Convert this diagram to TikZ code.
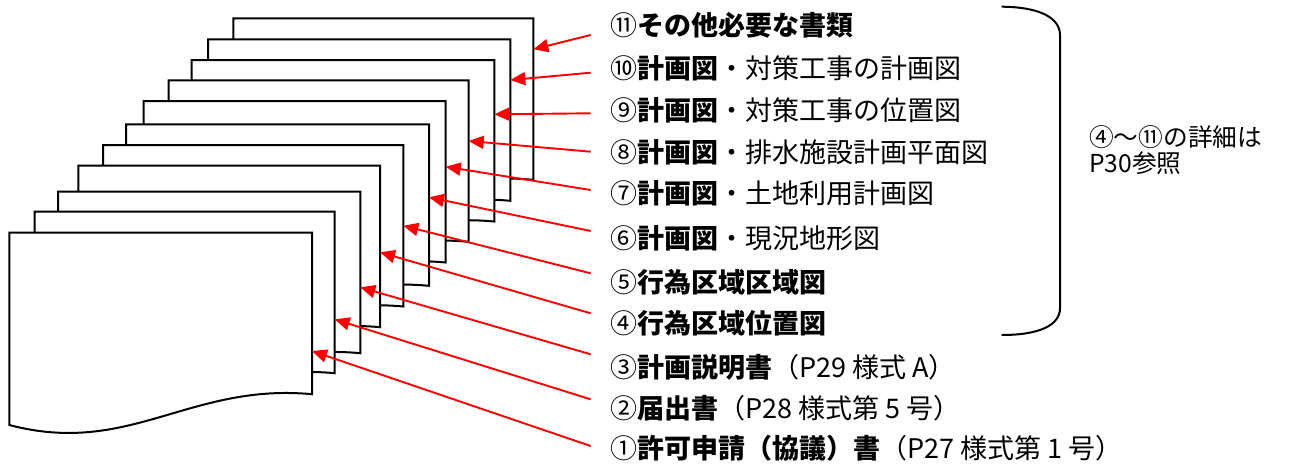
\documentclass[tikz,border=0pt]{standalone}
\usepackage{fontspec}
\newfontfamily\jp{Noto Sans CJK JP}
\usetikzlibrary{arrows.meta}
\begin{document}
\begin{tikzpicture}[x=1pt,y=-1pt,
  page/.style={draw=black,line width=2pt,fill=white,line join=miter},
  arr/.style={draw=red,line width=1.9pt,-{Triangle[length=15pt,width=13pt]}},
  lbl/.style={anchor=base west,inner sep=0pt,font=\jp\fontsize{27}{30}\selectfont},
  note/.style={anchor=base west,inner sep=0pt,font=\jp\fontsize{24.7}{27}\selectfont},
  brace/.style={draw=black,line width=2pt}]
\useasboundingbox (0,0) rectangle (1298,463);
% pages, back to front
\foreach \L/\T/\R in {233.3/18.3/533.3, 208/39.3/510.3, 191.7/60/494.3, 168.7/80.3/468.7,
  143.7/101/445.7, 126/124.3/429, 103/145/403.3, 78.3/165.7/380, 58/191.7/360.3,
  34.7/211.7/334.7, 9.3/232.7/312}
  \draw[page] (\L,\T) -- (\R,\T) -- (\R,\T+161.5)
     .. controls (\L+180,\T+150) and (\L+120,\T+224) .. (\L,\T+192.3) -- cycle;
% arrow tips on page edges
\coordinate (p11) at (533.3,49.3);
\coordinate (p10) at (510.3,80);
\coordinate (p9) at (494.3,114.3);
\coordinate (p8) at (468.7,141);
\coordinate (p7) at (445.7,166.7);
\coordinate (p6) at (429,197.3);
\coordinate (p5) at (403.3,225.7);
\coordinate (p4) at (380,252.3);
\coordinate (p3) at (360.3,287.3);
\coordinate (p2) at (334.7,319.3);
\coordinate (p1) at (312,351);
% arrow tails
\coordinate (s11) at (590.7,35);
\coordinate (s10) at (590.7,72.7);
\coordinate (s9) at (590.7,113.3);
\coordinate (s8) at (590.7,151.7);
\coordinate (s7) at (590.7,190);
\coordinate (s6) at (590.7,231);
\coordinate (s5) at (590.7,273.3);
\coordinate (s4) at (590.7,313.3);
\coordinate (s3) at (590.7,354.3);
\coordinate (s2) at (590.7,399.3);
\coordinate (s1) at (590.7,446);
\foreach \i in {1,...,11} \draw[arr] (s\i) -- (p\i);
% labels
\node[lbl] (l11) at (610,35.3) {⑪{\bfseries その他必要な書類}};
\node[lbl] (l10) at (610,78.6) {⑩{\bfseries 計画図}・対策工事の計画図};
\node[lbl] (l9) at (610,120.3) {⑨{\bfseries 計画図}・対策工事の位置図};
\node[lbl] (l8) at (610,162) {⑧{\bfseries 計画図}・排水施設計画平面図};
\node[lbl] (l7) at (610,203.6) {⑦{\bfseries 計画図}・土地利用計画図};
\node[lbl] (l6) at (610,248.3) {⑥{\bfseries 計画図}・現況地形図};
\node[lbl] (l5) at (610,292) {⑤{\bfseries 行為区域区域図}};
\node[lbl] (l4) at (610,333.6) {④{\bfseries 行為区域位置図}};
\node[lbl] (l3) at (610,377) {③{\bfseries 計画説明書}（P29 様式 A）};
\node[lbl] (l2) at (610,418.6) {②{\bfseries 届出書}（P28 様式第 5 号）};
\node[lbl] (l1) at (610,458.6) {①{\bfseries 許可申請（協議）書}（P27 様式第 1 号）};
% brace
\draw[brace] (1001.7,6.7) .. controls (1040,7) and (1060,18) .. (1060,35)
   -- (1060,308) .. controls (1060,325) and (1040,335) .. (1001.7,335);
\node[note] (n1) at (1089,146) {④〜⑪の詳細は};
\node[note] (n2) at (1089,172.7) {P30参照};
\end{tikzpicture}
\end{document}
